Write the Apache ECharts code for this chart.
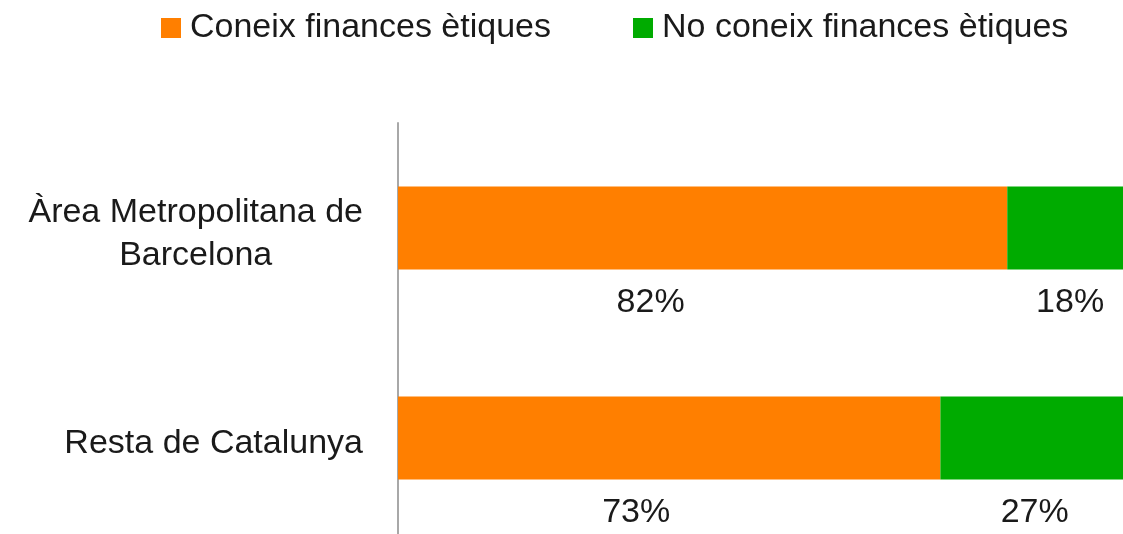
<!DOCTYPE html>
<html>
<head>
<meta charset="utf-8">
<script src="https://cdn.jsdelivr.net/npm/echarts@6/dist/echarts.min.js"></script>
<style>
  html, body { margin: 0; padding: 0; background: #fff; }
  #main { width: 1123px; height: 534px; }
</style>
</head>
<body>
<div id="main"></div>
<script>
// dades
const regions = ['Àrea Metropolitana de\nBarcelona', 'Resta de Catalunya']
const coneix = [82, 73]
const noConeix = [18, 27]
const seriesNames = ['Coneix finances ètiques', 'No coneix finances ètiques']

const FONT = 'Liberation Sans'
const chart = echarts.init(document.getElementById('main'))

// els percentatges no queden centrats sota cada tram a l'original
const shiftConeix = [-52, -33]
const shiftNo = [-4, -6]

const barLabel = {
  show: true,
  position: 'bottom',
  distance: 16,
  formatter: '{c}%',
  fontFamily: FONT,
  fontSize: 34,
  color: '#1a1a1a'
}

const option = {
  animation: false,
  legend: {
    left: 161,
    top: 11,
    padding: 0,
    icon: 'rect',
    itemWidth: 20,
    itemHeight: 20,
    itemGap: 82,
    textStyle: { fontFamily: FONT, fontSize: 34, color: '#1a1a1a', padding: [5, 0, 0, 4] },
    data: seriesNames
  },
  // el gràfic original queda retallat per la dreta i per sota
  grid: {
    left: 398,
    right: -18,
    top: 123,
    bottom: -9,
    outerBoundsMode: 'none'
  },
  xAxis: {
    type: 'value',
    min: 0,
    max: 100,
    show: false
  },
  yAxis: {
    type: 'category',
    inverse: true,
    data: regions,
    axisLine: { lineStyle: { color: '#a8a8a8', width: 2 } },
    axisTick: { show: false },
    axisLabel: {
      margin: 35,
      formatter: function (v) {
        return v.split('\n').map(function (l) { return '{c|' + l + '}' }).join('\n')
      },
      rich: {
        c: {
          align: 'center',
          fontFamily: FONT,
          fontSize: 34,
          lineHeight: 43,
          color: '#1a1a1a'
        }
      },
      padding: [12, 0, 0, 0]
    }
  },
  series: [
    {
      name: seriesNames[0],
      type: 'bar',
      stack: 'total',
      barWidth: 83,
      itemStyle: { color: '#FF7F00' },
      label: barLabel,
      data: coneix.map(function (v, i) {
        return { value: v, label: { offset: [shiftConeix[i], 0] } }
      })
    },
    {
      name: seriesNames[1],
      type: 'bar',
      stack: 'total',
      barWidth: 83,
      itemStyle: { color: '#00AB00' },
      label: barLabel,
      data: noConeix.map(function (v, i) {
        return { value: v, label: { offset: [shiftNo[i], 0] } }
      })
    }
  ]
}

option && chart.setOption(option)
</script>
</body>
</html>
